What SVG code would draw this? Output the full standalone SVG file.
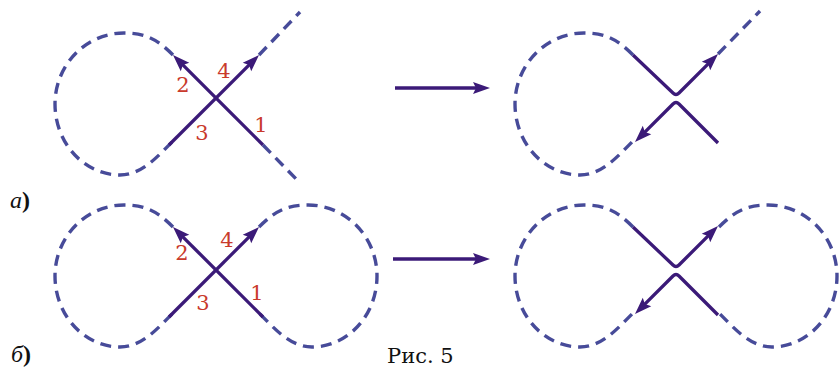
<svg xmlns="http://www.w3.org/2000/svg" width="840" height="372" viewBox="0 0 840 372">
<style>
.dash{fill:none;stroke:#474b99;stroke-width:3.4;stroke-dasharray:11 7}
.sol{fill:none;stroke:#3b1a78;stroke-width:3.3;stroke-linejoin:round}
.arr{marker-end:url(#ah)}
.num{font-family:"DejaVu Serif","Liberation Serif",serif;font-size:21px;fill:#c93a2c;text-anchor:middle}
.lab{font-family:"Liberation Serif","DejaVu Serif",serif;font-size:24px;font-weight:bold;fill:#111}
.cap{font-family:"DejaVu Serif","Liberation Serif",serif;font-size:21px;fill:#111}
</style>
<defs>
<marker id="ah" markerUnits="userSpaceOnUse" markerWidth="22" markerHeight="16" viewBox="0 -8 22 16" refX="7" refY="0" orient="auto" overflow="visible">
<path d="M0,-6 L17,0 L0,6 L3,0 Z" fill="#3b1a78"/>
</marker>
<path id="loop" d="M-43,-43 C-58,-58 -70,-65 -92,-65 C-130,-65 -161,-33 -161,6 C-161,45 -132,77 -96,77 C-74,77 -58,58 -43,43"/>
</defs>
<g id="connectors">
<path class="sol arr" d="M395,88 L480,88"/>
<path class="sol arr" d="M393,259 L480,259"/>
</g>
<g id="a-left">
<use href="#loop" class="dash" transform="translate(216,98)"/>
<path class="dash" d="M259,55 L300,12"/>
<path class="dash" d="M263,145 L300,183"/>
<path class="sol arr" d="M263,145 L180.07,62.07"/>
<path class="sol arr" d="M169,145 L251.93,62.07"/>
<text class="num" x="183" y="92">2</text>
<text class="num" x="224" y="78">4</text>
<text class="num" x="202" y="140">3</text>
<text class="num" x="261" y="132">1</text>
</g>
<g id="a-right">
<use href="#loop" class="dash" transform="translate(676,98)"/>
<path class="dash" d="M718,54 L760,11"/>
<path class="sol arr" d="M633,55 L673,93 Q676,96 679,93 L710.93,61.07"/>
<path class="sol arr" d="M718,143 L679,104 Q676,101 673,104 L642.07,134.93"/>
</g>
<g id="b-left">
<use href="#loop" class="dash" transform="translate(216,270)"/>
<use href="#loop" class="dash" transform="translate(216,270) scale(-1,1)"/>
<path class="sol arr" d="M263,317 L180.07,234.07"/>
<path class="sol arr" d="M169,317 L251.93,234.07"/>
<text class="num" x="182" y="260">2</text>
<text class="num" x="227" y="247">4</text>
<text class="num" x="203" y="310">3</text>
<text class="num" x="257" y="300">1</text>
</g>
<g id="b-right">
<use href="#loop" class="dash" transform="translate(676,270)"/>
<use href="#loop" class="dash" transform="translate(676,270) scale(-1,1)"/>
<path class="sol arr" d="M633,227 L673,265 Q676,268 679,265 L710.93,233.07"/>
<path class="sol arr" d="M718,315 L679,276 Q676,273 673,276 L642.07,306.93"/>
</g>
<g id="labels">
<text class="lab" x="10" y="208"><tspan font-style="italic" font-weight="normal">а</tspan>)</text>
<text class="lab" x="11" y="362"><tspan font-style="italic" font-weight="normal">б</tspan>)</text>
<text class="cap" x="387" y="363">Рис. 5</text>
</g>
</svg>
